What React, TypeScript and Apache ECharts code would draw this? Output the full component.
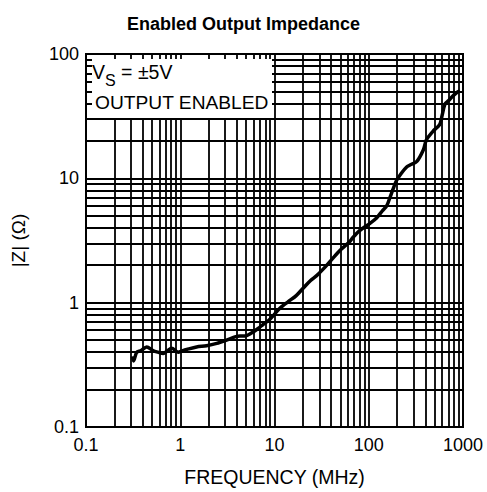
import React, { useEffect, useRef } from "react";
import * as echarts from "echarts";

const title = "Enabled Output Impedance";
const xName = "FREQUENCY (MHz)";
const yName = "|Z| (Ω)";
const legendLine1 = ["V", "S", " = ±5V"];
const legendLine2 = "OUTPUT ENABLED";
const xTickLabels = ["0.1", "1", "10", "100", "1000"];
const yTickLabels = ["0.1", "1", "10", "100"];

const freqMHz = [
  0.31, 0.32, 0.345, 0.38, 0.44, 0.52, 0.58, 0.66, 0.73, 0.81, 0.95, 1.05, 1.17,
  1.49, 1.9, 2.44, 3.1, 3.8, 4.3, 4.9, 5.7, 6.7, 7.6, 9.0, 11.4, 14, 17, 20, 24,
  28, 33, 40, 50, 63, 68, 80, 103, 121, 140, 155, 170, 180, 197, 224, 251, 274,
  324, 380, 409, 480, 565, 600, 644, 700, 780, 860, 925,
];
const impedance = [
  0.37, 0.34, 0.4, 0.41, 0.44, 0.41, 0.4, 0.39, 0.41, 0.43, 0.4, 0.41, 0.42,
  0.44, 0.45, 0.47, 0.5, 0.53, 0.54, 0.54, 0.57, 0.62, 0.67, 0.74, 0.9, 1.02,
  1.14, 1.3, 1.5, 1.65, 1.87, 2.2, 2.65, 3.1, 3.35, 3.8, 4.35, 4.8, 5.5, 6.0,
  7.2, 8.1, 9.6, 11.1, 12.3, 12.8, 13.7, 17, 20.4, 23.9, 27, 32, 39.6, 42, 45.9,
  49, 50.5,
];

const xMinorGrid = [
  0.2, 0.3, 0.4, 0.5, 0.6, 0.7, 0.8, 0.9, 2, 3, 4, 5, 6, 7, 8, 9, 20, 30, 40, 50,
  60, 70, 80, 90, 200, 300, 400, 500, 600, 700, 800, 900,
];
const yMinorGrid = [
  0.2, 0.3, 0.4, 0.5, 0.6, 0.7, 0.8, 0.9, 2, 3, 4, 5, 6, 7, 8, 9, 20, 30, 40, 50,
  60, 70, 80, 90,
];

const FONT = "'Liberation Sans', Arial, Helvetica, sans-serif";

export default function App() {
  const ref = useRef<HTMLDivElement>(null);
  useEffect(() => {
    document.body.style.margin = "0";
    if (!ref.current) return;
    const chart = echarts.init(ref.current, null, { renderer: "svg" });
    const data = freqMHz.map((f, i) => [f, impedance[i]]);
    const gridLine = { color: "#000", width: 1.8, type: "solid" as const };
    chart.setOption({
      animation: false,
      backgroundColor: "#fff",
      title: {
        text: title,
        left: "center",
        top: 10,
        textStyle: { fontFamily: FONT, fontSize: 18, fontWeight: "bold", color: "#000" },
      },
      grid: {
        left: 86,
        right: 24,
        top: 54,
        bottom: 63,
        show: true,
        borderColor: "#000",
        borderWidth: 2,
        backgroundColor: "transparent",
      },
      xAxis: {
        type: "log",
        logBase: 10,
        min: 0.1,
        max: 1000,
        name: xName,
        nameLocation: "middle",
        nameGap: 40,
        nameTextStyle: { fontFamily: FONT, fontSize: 19.5, color: "#000" },
        axisLine: { show: true, lineStyle: { color: "#000", width: 2 } },
        axisTick: { show: false },
        axisLabel: {
          fontFamily: FONT,
          fontSize: 18,
          color: "#000",
          margin: 9,
          formatter: (_v: number, i: number) => xTickLabels[i] ?? "",
        },
        splitLine: { show: true, lineStyle: gridLine },
      },
      yAxis: {
        type: "log",
        logBase: 10,
        min: 0.1,
        max: 100,
        name: yName,
        nameLocation: "middle",
        nameGap: 58,
        nameTextStyle: { fontFamily: FONT, fontSize: 19, color: "#000" },
        axisLine: { show: true, lineStyle: { color: "#000", width: 2 } },
        axisTick: { show: false },
        axisLabel: {
          fontFamily: FONT,
          fontSize: 18,
          color: "#000",
          margin: 7,
          formatter: (_v: number, i: number) => yTickLabels[i] ?? "",
        },
        splitLine: { show: true, lineStyle: gridLine },
      },
      series: [
        {
          type: "line",
          data,
          showSymbol: false,
          smooth: 0.3,
          lineStyle: { color: "#000", width: 3.5 },
          z: 5,
          markLine: {
            silent: true,
            symbol: ["none", "none"],
            label: { show: false },
            lineStyle: gridLine,
            z: 1,
            data: [
              ...xMinorGrid.map((v) => ({ xAxis: v })),
              ...yMinorGrid.map((v) => ({ yAxis: v })),
            ],
          },
        },
      ],
      graphic: [
        {
          type: "rect",
          z: 100,
          shape: { x: 92, y: 59, width: 180, height: 59 },
          style: { fill: "#fff" },
        },
        {
          type: "text",
          z: 101,
          x: 92,
          y: 62,
          style: {
            text: `{a|${legendLine1[0]}}{s|${legendLine1[1]}}{a|${legendLine1[2]}}`,
            rich: {
              a: { fontFamily: FONT, fontSize: 19.5, fill: "#000", verticalAlign: "top" },
              s: { fontFamily: FONT, fontSize: 16, fill: "#000", padding: [10, 0, 0, 0] },
            },
          },
        },
        {
          type: "text",
          z: 101,
          x: 95,
          y: 93,
          style: { text: legendLine2, fontFamily: FONT, fontSize: 19.2, fill: "#000" },
        },
      ],
    });
    return () => chart.dispose();
  }, []);
  return <div ref={ref} style={{ width: 487, height: 492 }} />;
}
